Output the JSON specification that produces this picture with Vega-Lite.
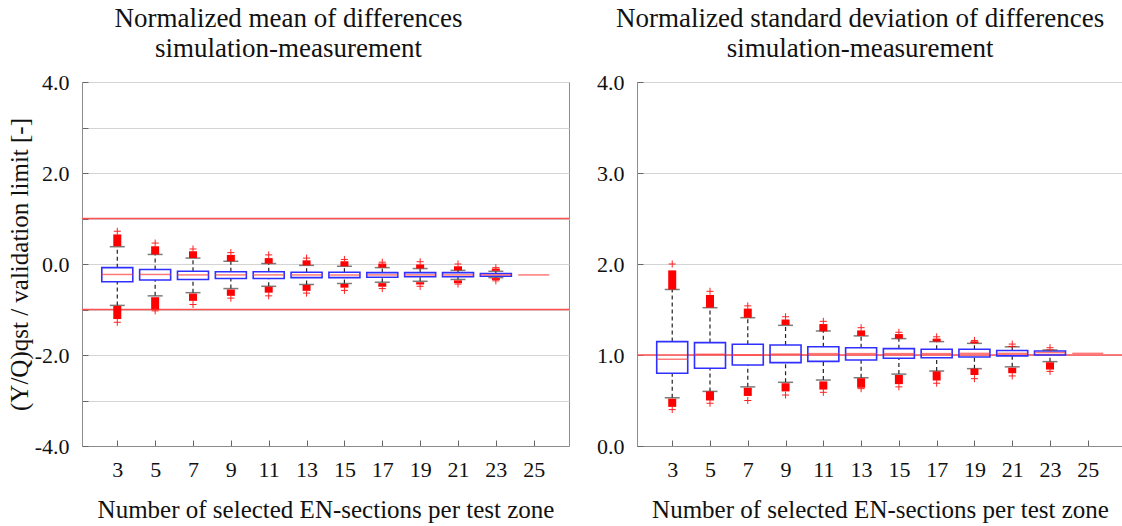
{
  "$schema": "https://vega.github.io/schema/vega-lite/v6.json",
  "padding": {"left": 6, "top": 4, "right": 0, "bottom": 0},
  "background": "white",
  "config": {
    "font": "Liberation Serif",
    "view": {"stroke": "#8c8c8c", "strokeWidth": 1},
    "axis": {"labelFont": "Liberation Serif", "titleFont": "Liberation Serif", "labelFontSize": 22, "titleFontSize": 25, "titleFontWeight": "normal", "labelColor": "#111", "titleColor": "#111", "domainColor": "#8c8c8c", "tickColor": "#666", "gridColor": "#d4d4d4", "tickSize": -6, "labelPadding": 19},
    "title": {"font": "Liberation Serif", "fontSize": 27, "fontWeight": "normal", "color": "#111", "lineHeight": 30, "anchor": "middle", "frame": "bounds", "offset": 8},
    "concat": {"spacing": 25}
  },
  "datasets": {
    "mean": [
      {"n": 3, "q1": -0.39, "med": -0.23, "q3": -0.08, "wlo": -0.91, "whi": 0.38, "hlo": 0.39, "hhi": 0.65, "hx": 0.72, "llo": -1.21, "lhi": -0.92, "lx": -1.28},
      {"n": 5, "q1": -0.35, "med": -0.23, "q3": -0.12, "wlo": -0.70, "whi": 0.21, "hlo": 0.21, "hhi": 0.39, "hx": 0.46, "llo": -1.0, "lhi": -0.73, "lx": -1.03},
      {"n": 7, "q1": -0.34, "med": -0.24, "q3": -0.16, "wlo": -0.63, "whi": 0.13, "hlo": 0.13, "hhi": 0.28, "hx": 0.33, "llo": -0.81, "lhi": -0.65, "lx": -0.89},
      {"n": 9, "q1": -0.32, "med": -0.24, "q3": -0.17, "wlo": -0.54, "whi": 0.06, "hlo": 0.06, "hhi": 0.2, "hx": 0.25, "llo": -0.70, "lhi": -0.56, "lx": -0.75},
      {"n": 11, "q1": -0.32, "med": -0.24, "q3": -0.17, "wlo": -0.49, "whi": 0.01, "hlo": 0.01, "hhi": 0.13, "hx": 0.2, "llo": -0.63, "lhi": -0.50, "lx": -0.70},
      {"n": 13, "q1": -0.30, "med": -0.24, "q3": -0.18, "wlo": -0.45, "whi": -0.03, "hlo": -0.03, "hhi": 0.08, "hx": 0.13, "llo": -0.59, "lhi": -0.46, "lx": -0.64},
      {"n": 15, "q1": -0.30, "med": -0.24, "q3": -0.18, "wlo": -0.43, "whi": -0.05, "hlo": -0.05, "hhi": 0.06, "hx": 0.10, "llo": -0.52, "lhi": -0.44, "lx": -0.58},
      {"n": 17, "q1": -0.29, "med": -0.24, "q3": -0.19, "wlo": -0.40, "whi": -0.08, "hlo": -0.08, "hhi": 0.01, "hx": 0.04, "llo": -0.50, "lhi": -0.42, "lx": -0.54},
      {"n": 19, "q1": -0.28, "med": -0.24, "q3": -0.19, "wlo": -0.38, "whi": -0.10, "hlo": -0.10, "hhi": -0.01, "hx": 0.05, "llo": -0.45, "lhi": -0.40, "lx": -0.49},
      {"n": 21, "q1": -0.28, "med": -0.24, "q3": -0.19, "wlo": -0.34, "whi": -0.14, "hlo": -0.14, "hhi": -0.05, "hx": 0.0, "llo": -0.42, "lhi": -0.36, "lx": -0.44},
      {"n": 23, "q1": -0.27, "med": -0.24, "q3": -0.21, "wlo": -0.30, "whi": -0.16, "hlo": -0.15, "hhi": -0.10, "hx": -0.08, "llo": -0.35, "lhi": -0.31, "lx": -0.37},
      {"n": 25, "med": -0.24}
    ],
    "std": [
      {"n": 3, "q1": 0.80, "med": 0.953, "q3": 1.147, "wlo": 0.53, "whi": 1.72, "hlo": 1.72, "hhi": 1.93, "hx": 2.0, "llo": 0.43, "lhi": 0.52, "lx": 0.40},
      {"n": 5, "q1": 0.854, "med": 1.008, "q3": 1.136, "wlo": 0.60, "whi": 1.52, "hlo": 1.52, "hhi": 1.66, "hx": 1.70, "llo": 0.50, "lhi": 0.60, "lx": 0.47},
      {"n": 7, "q1": 0.89, "med": 1.0, "q3": 1.118, "wlo": 0.65, "whi": 1.41, "hlo": 1.41, "hhi": 1.51, "hx": 1.54, "llo": 0.55, "lhi": 0.64, "lx": 0.50},
      {"n": 9, "q1": 0.916, "med": 1.01, "q3": 1.11, "wlo": 0.70, "whi": 1.326, "hlo": 1.33, "hhi": 1.39, "hx": 1.42, "llo": 0.60, "lhi": 0.69, "lx": 0.56},
      {"n": 11, "q1": 0.93, "med": 1.015, "q3": 1.09, "wlo": 0.725, "whi": 1.264, "hlo": 1.26, "hhi": 1.34, "hx": 1.37, "llo": 0.62, "lhi": 0.71, "lx": 0.59},
      {"n": 13, "q1": 0.945, "med": 1.015, "q3": 1.08, "wlo": 0.75, "whi": 1.21, "hlo": 1.21, "hhi": 1.27, "hx": 1.30, "llo": 0.64, "lhi": 0.745, "lx": 0.63},
      {"n": 15, "q1": 0.964, "med": 1.015, "q3": 1.07, "wlo": 0.79, "whi": 1.18, "hlo": 1.18, "hhi": 1.23, "hx": 1.25, "llo": 0.68, "lhi": 0.78, "lx": 0.65},
      {"n": 17, "q1": 0.97, "med": 1.015, "q3": 1.063, "wlo": 0.824, "whi": 1.147, "hlo": 1.147, "hhi": 1.18, "hx": 1.20, "llo": 0.72, "lhi": 0.82, "lx": 0.69},
      {"n": 19, "q1": 0.978, "med": 1.018, "q3": 1.063, "wlo": 0.85, "whi": 1.128, "hlo": 1.13, "hhi": 1.15, "hx": 1.16, "llo": 0.78, "lhi": 0.85, "lx": 0.74},
      {"n": 21, "q1": 0.99, "med": 1.018, "q3": 1.05, "wlo": 0.87, "whi": 1.09, "hlo": 1.09, "hhi": 1.10, "hx": 1.12, "llo": 0.80, "lhi": 0.86, "lx": 0.77},
      {"n": 23, "q1": 1.0, "med": 1.026, "q3": 1.044, "wlo": 0.927, "whi": 1.055, "hlo": 1.055, "hhi": 1.06, "hx": 1.08, "llo": 0.84, "lhi": 0.92, "lx": 0.82},
      {"n": 25, "med": 1.018}
    ],
    "refL": [{"v": 1}, {"v": -1}],
    "refR": [{"v": 1}]
  },
  "hconcat": [
    {
      "width": 487,
      "height": 364,
      "title": {"text": ["Normalized mean of differences", "simulation-measurement"]},
      "data": {"name": "mean"},
      "layer": [
        {
          "mark": {"type": "rule", "color": "#222", "strokeDash": [4, 3], "strokeWidth": 1.2},
          "encoding": {
            "x": {"field": "n", "type": "quantitative", "scale": {"domain": [1.4, 26.6], "nice": false, "zero": false}, "axis": {"values": [3, 5, 7, 9, 11, 13, 15, 17, 19, 21, 23, 25], "grid": false, "title": "Number of selected EN-sections per test zone", "titlePadding": 17, "labelFlush": false}},
            "y": {"field": "wlo", "type": "quantitative", "scale": {"domain": [-4, 4], "nice": false, "zero": false}, "axis": {"values": [-4, -3, -2, -1, 0, 1, 2, 3, 4], "labelExpr": "datum.value % 2 === 0 ? (datum.value < 0 ? '-' : '') + format(abs(datum.value), '.1f') : ''", "grid": true, "titlePadding": 2, "title": "(Y/Q)qst / validation limit [-]"}},
            "y2": {"field": "q1"}
          }
        },
        {
          "mark": {"type": "rule", "color": "#222", "strokeDash": [4, 3], "strokeWidth": 1.2},
          "encoding": {
            "x": {"field": "n", "type": "quantitative"},
            "y": {"field": "q3", "type": "quantitative"},
            "y2": {"field": "whi"}
          }
        },
        {
          "data": {"name": "refL"},
          "mark": {"type": "rule", "color": "#ff5050", "strokeWidth": 1.5},
          "encoding": {"y": {"field": "v", "type": "quantitative"}}
        },
        {
          "mark": {"type": "bar", "size": 31, "fill": "white", "fillOpacity": 0, "stroke": "#2f2fff", "strokeWidth": 1.6},
          "encoding": {
            "x": {"field": "n", "type": "quantitative"},
            "y": {"field": "q1", "type": "quantitative"},
            "y2": {"field": "q3"}
          }
        },
        {
          "mark": {"type": "tick", "orient": "horizontal", "size": 31, "thickness": 1.5, "color": "#ff4040"},
          "encoding": {
            "x": {"field": "n", "type": "quantitative"},
            "y": {"field": "med", "type": "quantitative"}
          }
        },
        {
          "mark": {"type": "tick", "orient": "horizontal", "size": 15, "thickness": 1.5, "color": "#444"},
          "encoding": {
            "x": {"field": "n", "type": "quantitative"},
            "y": {"field": "wlo", "type": "quantitative"}
          }
        },
        {
          "mark": {"type": "tick", "orient": "horizontal", "size": 15, "thickness": 1.5, "color": "#444"},
          "encoding": {
            "x": {"field": "n", "type": "quantitative"},
            "y": {"field": "whi", "type": "quantitative"}
          }
        },
        {
          "mark": {"type": "bar", "size": 8, "color": "#ff0000"},
          "encoding": {
            "x": {"field": "n", "type": "quantitative"},
            "y": {"field": "hlo", "type": "quantitative"},
            "y2": {"field": "hhi"}
          }
        },
        {
          "mark": {"type": "bar", "size": 8, "color": "#ff0000"},
          "encoding": {
            "x": {"field": "n", "type": "quantitative"},
            "y": {"field": "llo", "type": "quantitative"},
            "y2": {"field": "lhi"}
          }
        },
        {
          "mark": {"type": "point", "shape": "M-1,0H1M0,-1V1", "filled": false, "color": "#ff2020", "size": 50, "strokeWidth": 1, "opacity": 1},
          "encoding": {
            "x": {"field": "n", "type": "quantitative"},
            "y": {"field": "hx", "type": "quantitative"}
          }
        },
        {
          "mark": {"type": "point", "shape": "M-1,0H1M0,-1V1", "filled": false, "color": "#ff2020", "size": 50, "strokeWidth": 1, "opacity": 1},
          "encoding": {
            "x": {"field": "n", "type": "quantitative"},
            "y": {"field": "lx", "type": "quantitative"}
          }
        }
      ]
    },
    {
      "width": 486,
      "height": 364,
      "title": {"text": ["Normalized standard deviation of differences", "simulation-measurement"]},
      "data": {"name": "std"},
      "layer": [
        {
          "mark": {"type": "rule", "color": "#222", "strokeDash": [4, 3], "strokeWidth": 1.2},
          "encoding": {
            "x": {"field": "n", "type": "quantitative", "scale": {"domain": [1.4, 26.6], "nice": false, "zero": false}, "axis": {"values": [3, 5, 7, 9, 11, 13, 15, 17, 19, 21, 23, 25], "grid": false, "title": "Number of selected EN-sections per test zone", "titlePadding": 17, "labelFlush": false}},
            "y": {"field": "wlo", "type": "quantitative", "scale": {"domain": [0, 4], "nice": false}, "axis": {"values": [0, 1, 2, 3, 4], "format": ".1f", "grid": true, "title": null}},
            "y2": {"field": "q1"}
          }
        },
        {
          "mark": {"type": "rule", "color": "#222", "strokeDash": [4, 3], "strokeWidth": 1.2},
          "encoding": {
            "x": {"field": "n", "type": "quantitative"},
            "y": {"field": "q3", "type": "quantitative"},
            "y2": {"field": "whi"}
          }
        },
        {
          "data": {"name": "refR"},
          "mark": {"type": "rule", "color": "#ff5050", "strokeWidth": 1.5},
          "encoding": {"y": {"field": "v", "type": "quantitative"}}
        },
        {
          "mark": {"type": "bar", "size": 31, "fill": "white", "fillOpacity": 0, "stroke": "#2f2fff", "strokeWidth": 1.6},
          "encoding": {
            "x": {"field": "n", "type": "quantitative"},
            "y": {"field": "q1", "type": "quantitative"},
            "y2": {"field": "q3"}
          }
        },
        {
          "mark": {"type": "tick", "orient": "horizontal", "size": 31, "thickness": 1.5, "color": "#ff4040"},
          "encoding": {
            "x": {"field": "n", "type": "quantitative"},
            "y": {"field": "med", "type": "quantitative"}
          }
        },
        {
          "mark": {"type": "tick", "orient": "horizontal", "size": 15, "thickness": 1.5, "color": "#444"},
          "encoding": {
            "x": {"field": "n", "type": "quantitative"},
            "y": {"field": "wlo", "type": "quantitative"}
          }
        },
        {
          "mark": {"type": "tick", "orient": "horizontal", "size": 15, "thickness": 1.5, "color": "#444"},
          "encoding": {
            "x": {"field": "n", "type": "quantitative"},
            "y": {"field": "whi", "type": "quantitative"}
          }
        },
        {
          "mark": {"type": "bar", "size": 8, "color": "#ff0000"},
          "encoding": {
            "x": {"field": "n", "type": "quantitative"},
            "y": {"field": "hlo", "type": "quantitative"},
            "y2": {"field": "hhi"}
          }
        },
        {
          "mark": {"type": "bar", "size": 8, "color": "#ff0000"},
          "encoding": {
            "x": {"field": "n", "type": "quantitative"},
            "y": {"field": "llo", "type": "quantitative"},
            "y2": {"field": "lhi"}
          }
        },
        {
          "mark": {"type": "point", "shape": "M-1,0H1M0,-1V1", "filled": false, "color": "#ff2020", "size": 50, "strokeWidth": 1, "opacity": 1},
          "encoding": {
            "x": {"field": "n", "type": "quantitative"},
            "y": {"field": "hx", "type": "quantitative"}
          }
        },
        {
          "mark": {"type": "point", "shape": "M-1,0H1M0,-1V1", "filled": false, "color": "#ff2020", "size": 50, "strokeWidth": 1, "opacity": 1},
          "encoding": {
            "x": {"field": "n", "type": "quantitative"},
            "y": {"field": "lx", "type": "quantitative"}
          }
        }
      ]
    }
  ]
}
